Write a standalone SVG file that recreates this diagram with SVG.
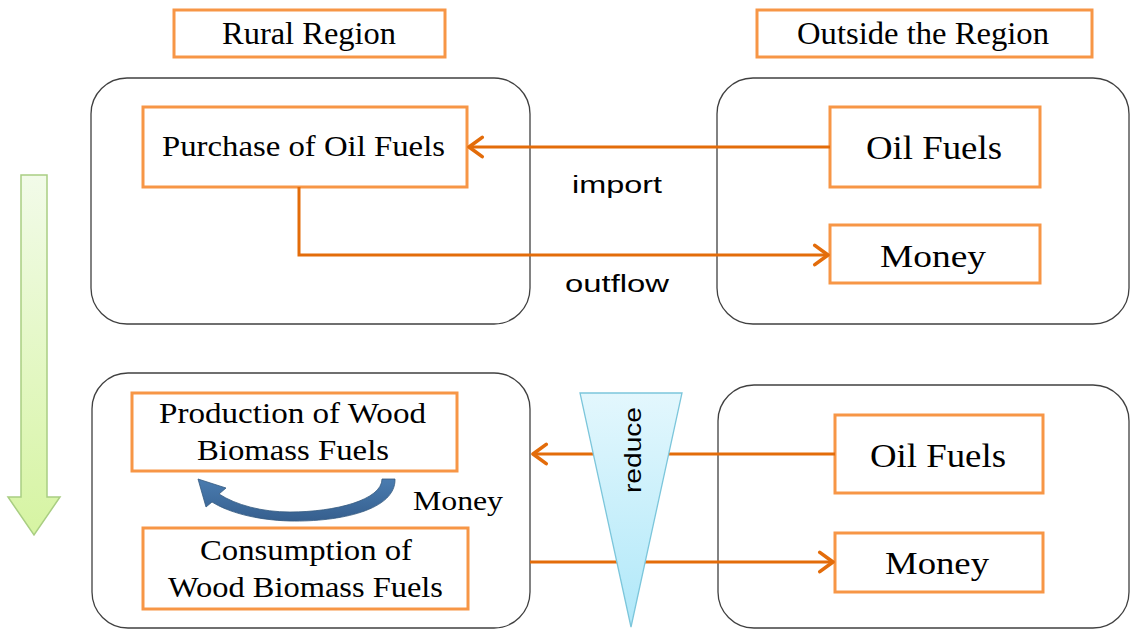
<svg xmlns="http://www.w3.org/2000/svg" width="1131" height="630" viewBox="0 0 1131 630">
<style>
.region{fill:#fff;stroke:#404040;stroke-width:1.3}
.box{fill:#fff;stroke:#F79646;stroke-width:3}
.t{font-family:"Liberation Serif","Times New Roman",serif;fill:#000;text-anchor:start}
.s{font-family:"Liberation Sans",Arial,sans-serif;fill:#000}
.conn{fill:none;stroke:#E36C0A;stroke-width:3}
</style>
<defs>
<marker id="arr" markerUnits="userSpaceOnUse" markerWidth="24" markerHeight="24" viewBox="-14 -10 16 20" refX="0" refY="0" orient="auto">
<path d="M -11 -8 L 0 0 L -11 8" fill="none" stroke="#E36C0A" stroke-width="3" stroke-linecap="round" stroke-linejoin="round"/>
</marker>
<linearGradient id="gGreen" x1="0" y1="0" x2="0" y2="1">
<stop offset="0" stop-color="#F2FBE9"/>
<stop offset="1" stop-color="#D6F4A2"/>
</linearGradient>
<linearGradient id="gBlue" x1="0" y1="0" x2="0" y2="1">
<stop offset="0" stop-color="#E3F7FD"/>
<stop offset="1" stop-color="#B0E8F9"/>
</linearGradient>
<linearGradient id="gNavy" x1="0" y1="0" x2="0" y2="1">
<stop offset="0" stop-color="#4A7CB0"/>
<stop offset="1" stop-color="#365F8E"/>
</linearGradient>
</defs>
<rect width="1131" height="630" fill="#fff"/>

<g id="containers">
<rect id="rural-top" class="region" x="91" y="78" width="439" height="246" rx="36"/>
<rect id="outside-top" class="region" x="717" y="78" width="412" height="246" rx="36"/>
<rect id="rural-bottom" class="region" x="92" y="373" width="438" height="255" rx="36"/>
<rect id="outside-bottom" class="region" x="718" y="385" width="411" height="243" rx="36"/>
</g>

<g id="green-arrow">
<path d="M 21 175 H 47 V 497 H 60 L 34 535 L 8 497 H 21 Z" fill="url(#gGreen)" stroke="#A9CE82" stroke-width="1.5"/>
</g>

<g id="label-rural">
<rect class="box" x="174" y="10" width="271" height="47"/>
<text class="t" x="222" y="44" font-size="31" textLength="174" lengthAdjust="spacingAndGlyphs">Rural Region</text>
</g>
<g id="label-outside">
<rect class="box" x="757" y="10" width="335" height="47"/>
<text class="t" x="797" y="44" font-size="31" textLength="252" lengthAdjust="spacingAndGlyphs">Outside the Region</text>
</g>

<g id="purchase">
<rect class="box" x="143" y="107" width="324" height="80"/>
<text class="t" x="162" y="156" font-size="30" textLength="283" lengthAdjust="spacingAndGlyphs">Purchase of Oil Fuels</text>
</g>
<g id="oil-top">
<rect class="box" x="830" y="107" width="210" height="80"/>
<text class="t" x="866" y="159" font-size="33" textLength="136" lengthAdjust="spacingAndGlyphs">Oil Fuels</text>
</g>
<g id="money-top">
<rect class="box" x="830" y="225" width="210" height="58"/>
<text class="t" x="880" y="267" font-size="32" textLength="106" lengthAdjust="spacingAndGlyphs">Money</text>
</g>

<g id="production">
<rect class="box" x="132" y="393" width="325" height="78"/>
<text class="t" x="159" y="423" font-size="29" textLength="267" lengthAdjust="spacingAndGlyphs">Production of Wood</text>
<text class="t" x="197" y="460" font-size="29" textLength="192" lengthAdjust="spacingAndGlyphs">Biomass Fuels</text>
</g>
<g id="consumption">
<rect class="box" x="143" y="528" width="325" height="81"/>
<text class="t" x="200" y="560" font-size="29" textLength="212" lengthAdjust="spacingAndGlyphs">Consumption of</text>
<text class="t" x="168" y="597" font-size="29" textLength="275" lengthAdjust="spacingAndGlyphs">Wood Biomass Fuels</text>
</g>
<g id="oil-bottom">
<rect class="box" x="835" y="415" width="208" height="78"/>
<text class="t" x="870" y="467" font-size="33" textLength="136" lengthAdjust="spacingAndGlyphs">Oil Fuels</text>
</g>
<g id="money-bottom">
<rect class="box" x="835" y="533" width="208" height="59"/>
<text class="t" x="885" y="574" font-size="32" textLength="104" lengthAdjust="spacingAndGlyphs">Money</text>
</g>

<g id="connectors">
<line class="conn" x1="830" y1="147" x2="469" y2="147" marker-end="url(#arr)"/>
<path class="conn" d="M 299 187 V 255 H 828" marker-end="url(#arr)"/>
<line class="conn" x1="835" y1="454" x2="533" y2="454" marker-end="url(#arr)"/>
<line class="conn" x1="530" y1="562" x2="833" y2="562" marker-end="url(#arr)"/>
<path id="money-loop" d="M 395 479 C 396 510, 340 522, 290 521 C 255 520, 228 512, 212 502 L 206 507 L 198 479 L 226 488 L 219 494 C 236 505, 262 512, 290 512 C 335 512, 382 500, 382 479 Z" fill="url(#gNavy)" stroke="#34597F" stroke-width="0.8"/>
</g>

<g id="labels">
<text class="s" x="572" y="193" font-size="23" textLength="90" lengthAdjust="spacingAndGlyphs">import</text>
<text class="s" x="565" y="292" font-size="23" textLength="104" lengthAdjust="spacingAndGlyphs">outflow</text>
<text class="t" x="413" y="510" font-size="28" textLength="90" lengthAdjust="spacingAndGlyphs">Money</text>
</g>

<g id="reduce">
<path d="M 580 393 L 682 393 L 631 627 Z" fill="url(#gBlue)" stroke="#7CC6DB" stroke-width="1.3"/>
<text class="s" transform="translate(641 450) rotate(-90)" font-size="24" text-anchor="middle" textLength="86" lengthAdjust="spacingAndGlyphs">reduce</text>
</g>
</svg>
